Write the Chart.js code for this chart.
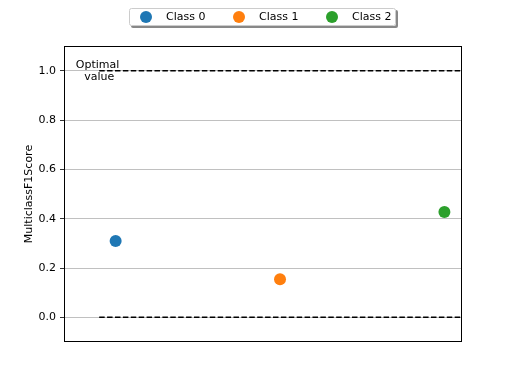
<!DOCTYPE html>
<html><head><meta charset="utf-8">
<script src="https://cdn.jsdelivr.net/npm/chart.js@4"></script>
<style>html,body{margin:0;padding:0;background:#fff}#c{display:block}</style>
</head><body>
<canvas id="c" width="512" height="384"></canvas>
<script>
const classLabels = ['Class 0', 'Class 1', 'Class 2'];
const classX = [0, 1, 2];
const f1Values = [0.309, 0.154, 0.427];
const classColors = ['#1f77b4', '#ff7f0e', '#2ca02c'];
const optimalValue = 1.0;
const worstValue = 0.0;
const yTicks = [0.0, 0.2, 0.4, 0.6, 0.8, 1.0];
const refLineX = [-0.1, 2.2];

const FONT = '"DejaVu Sans", sans-serif';

const datasets = classLabels.map((lab, i) => ({
  type: 'scatter', label: lab,
  data: [{x: classX[i], y: f1Values[i]}],
  backgroundColor: classColors[i], borderColor: classColors[i],
  pointRadius: 6, pointHoverRadius: 6, borderWidth: 0, order: 1
}));
[optimalValue, worstValue].forEach(v => datasets.push({
  type: 'line', label: '_ref',
  data: refLineX.map(x => ({x, y: v})),
  borderColor: '#000', borderWidth: 1.5, borderDash: [5.5, 2.4],
  pointRadius: 0, fill: false, order: 2
}));

const framePlugin = {
  id: 'frame',
  afterDraw(chart) {
    const {ctx, chartArea: a, scales} = chart;
    ctx.save();
    ctx.strokeStyle = '#000'; ctx.lineWidth = 1;
    const L = Math.round(a.left) + 0.5, R = Math.round(a.right) - 0.5;
    const T = Math.round(a.top) + 0.5, B = Math.round(a.bottom) - 0.5;
    ctx.strokeRect(L, T, R - L, B - T);
    // annotation text
    ctx.fillStyle = '#000';
    ctx.font = '11px ' + FONT;
    ctx.textAlign = 'center'; ctx.textBaseline = 'middle';
    const tx = scales.x.getPixelForValue(-0.11);
    const ty = scales.y.getPixelForValue(optimalValue);
    ctx.fillText('Optimal', tx, ty - 6);
    ctx.fillText(' value', tx, ty + 6);
    // legend
    const lx = 129, ly = 8, lw = 267, lh = 18;
    ctx.fillStyle = '#888';
    roundRect(ctx, lx + 2, ly + 2, lw, lh, 2); ctx.fill();
    ctx.fillStyle = '#fff';
    roundRect(ctx, lx, ly, lw, lh, 2); ctx.fill();
    ctx.strokeStyle = '#cccccc'; ctx.lineWidth = 1;
    roundRect(ctx, lx + 0.5, ly + 0.5, lw - 1, lh - 1, 2); ctx.stroke();
    const mx = [146, 239, 332];
    ctx.textAlign = 'left';
    classLabels.forEach((lab, i) => {
      ctx.fillStyle = classColors[i];
      ctx.beginPath(); ctx.arc(mx[i], ly + 9, 6, 0, Math.PI * 2); ctx.fill();
      ctx.fillStyle = '#000';
      ctx.fillText(lab, mx[i] + 20, ly + 9.5);
    });
    ctx.restore();
  }
};
function roundRect(ctx, x, y, w, h, r) {
  ctx.beginPath();
  ctx.moveTo(x + r, y); ctx.lineTo(x + w - r, y); ctx.quadraticCurveTo(x + w, y, x + w, y + r);
  ctx.lineTo(x + w, y + h - r); ctx.quadraticCurveTo(x + w, y + h, x + w - r, y + h);
  ctx.lineTo(x + r, y + h); ctx.quadraticCurveTo(x, y + h, x, y + h - r);
  ctx.lineTo(x, y + r); ctx.quadraticCurveTo(x, y, x + r, y); ctx.closePath();
}

new Chart(document.getElementById('c'), {
  data: {datasets},
  options: {
    responsive: false, animation: false, devicePixelRatio: 1,
    layout: {padding: {left: 23, right: 50, top: 46, bottom: 42}},
    plugins: {legend: {display: false}, tooltip: {enabled: false}},
    scales: {
      x: {type: 'linear', min: -0.314, max: 2.107, display: false},
      y: {
        type: 'linear', min: -0.1, max: 1.1,
        afterBuildTicks(s) { s.ticks = yTicks.map(v => ({value: v})); },
        afterFit(s) { s.width = 41; },
        ticks: {color: '#000', font: {family: FONT, size: 11}, padding: 4,
          callback: v => Number(v).toFixed(1)},
        grid: {color: '#b0b0b0', lineWidth: 0.8, tickColor: '#000', tickLength: 4, drawOnChartArea: true},
        border: {display: false},
        title: {display: true, text: 'MulticlassF1Score', color: '#000', font: {family: FONT, size: 11}, padding: {top: 0, bottom: 4}}
      }
    }
  },
  plugins: [framePlugin]
});
</script>
</body></html>
